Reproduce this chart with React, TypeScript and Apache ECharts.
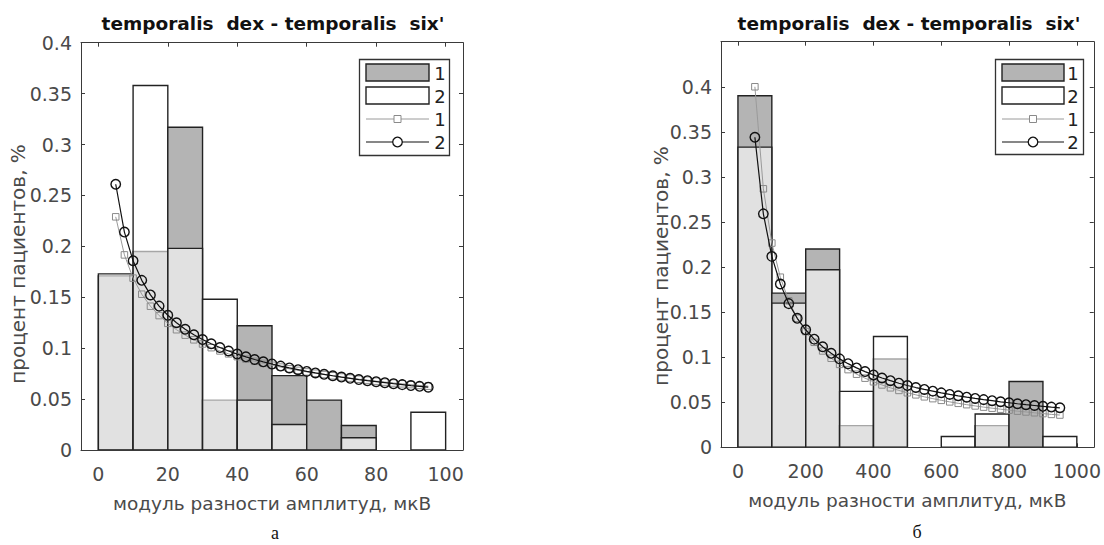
import React, { useEffect, useRef } from "react";
import * as echarts from "echarts";

// ---------- DATA ----------
const titleText = "temporalis  dex - temporalis  six'";
const xName = "модуль разности амплитуд, мкВ";
const yName = "процент пациентов, %";

// chart а
const aBinEdges = [0, 10, 20, 30, 40, 50, 60, 70, 80, 90, 100];
const aHist1 = [0.171, 0.195, 0.317, 0.049, 0.122, 0.073, 0.049, 0.024, 0, 0];
const aHist2 = [0.173, 0.358, 0.198, 0.148, 0.049, 0.025, 0, 0.012, 0, 0.037];
const aCurveX = [5, 7.5, 10, 12.5, 15, 17.5, 20, 22.5, 25, 27.5, 30, 32.5, 35, 37.5, 40, 42.5, 45, 47.5, 50, 52.5, 55, 57.5, 60, 62.5, 65, 67.5, 70, 72.5, 75, 77.5, 80, 82.5, 85, 87.5, 90, 92.5, 95];
const aCurve1 = [0.229, 0.1916, 0.1688, 0.153, 0.1412, 0.132, 0.1244, 0.1181, 0.1128, 0.1082, 0.1041, 0.1005, 0.0973, 0.0944, 0.0917, 0.0893, 0.0871, 0.0851, 0.0832, 0.0814, 0.0797, 0.0782, 0.0767, 0.0754, 0.0741, 0.0729, 0.0717, 0.0706, 0.0695, 0.0686, 0.0676, 0.0667, 0.0658, 0.065, 0.0642, 0.0634, 0.0627];
const aCurve2 = [0.261, 0.214, 0.1859, 0.1666, 0.1523, 0.1413, 0.1323, 0.1249, 0.1186, 0.1132, 0.1085, 0.1043, 0.1006, 0.0972, 0.0942, 0.0915, 0.0889, 0.0866, 0.0845, 0.0824, 0.0806, 0.0789, 0.0772, 0.0757, 0.0743, 0.0729, 0.0716, 0.0704, 0.0692, 0.0681, 0.0671, 0.0661, 0.0651, 0.0642, 0.0633, 0.0625, 0.0617];
const aXTicks = [0, 20, 40, 60, 80, 100];
const aYTicks = [0, 0.05, 0.1, 0.15, 0.2, 0.25, 0.3, 0.35, 0.4];

// chart б
const bBinEdges = [0, 100, 200, 300, 400, 500, 600, 700, 800, 900, 1000];
const bHist1 = [0.39, 0.171, 0.22, 0.024, 0.098, 0, 0, 0.024, 0.073, 0];
const bHist2 = [0.333, 0.16, 0.197, 0.062, 0.123, 0, 0.012, 0.037, 0, 0.012];
const bCurveX = [50, 75, 100, 125, 150, 175, 200, 225, 250, 275, 300, 325, 350, 375, 400, 425, 450, 475, 500, 525, 550, 575, 600, 625, 650, 675, 700, 725, 750, 775, 800, 825, 850, 875, 900, 925, 950];
const bCurve1 = [0.4, 0.2868, 0.2266, 0.1887, 0.1625, 0.1432, 0.1284, 0.1165, 0.1069, 0.0988, 0.092, 0.0862, 0.0811, 0.0767, 0.0727, 0.0692, 0.066, 0.0631, 0.0605, 0.0582, 0.056, 0.054, 0.0521, 0.0504, 0.0488, 0.0473, 0.0459, 0.0446, 0.0434, 0.0423, 0.0412, 0.0401, 0.0392, 0.0383, 0.0374, 0.0365, 0.0358];
const bCurve2 = [0.344, 0.259, 0.2118, 0.1812, 0.1594, 0.1431, 0.1304, 0.12, 0.1115, 0.1043, 0.0981, 0.0928, 0.0881, 0.084, 0.0803, 0.0769, 0.0739, 0.0711, 0.0686, 0.0663, 0.0642, 0.0623, 0.0604, 0.0587, 0.0571, 0.0556, 0.0542, 0.0529, 0.0517, 0.0505, 0.0494, 0.0483, 0.0473, 0.0464, 0.0455, 0.0446, 0.0438];
const bXTicks = [0, 200, 400, 600, 800, 1000];
const bYTicks = [0, 0.05, 0.1, 0.15, 0.2, 0.25, 0.3, 0.35, 0.4];

const legendLabels = ["1", "2", "1", "2"];
const captions = ["а", "б"];

// ---------- STYLE ----------
const FONT = "'DejaVu Sans', 'Liberation Sans', Arial, sans-serif";
const SERIF = "'Liberation Serif', 'Times New Roman', serif";
const AXIS_COLOR = "#3a3a3a";
const LABEL_COLOR = "#4a4a4a";
const DARK_FILL = "#b4b4b4";
const EDGE = "#222";

function histData(edges: number[], h1: number[], h2: number[]) {
  return h1.map((v, i) => [edges[i], edges[i + 1], v, h2[i]]);
}

function renderHist(params: any, api: any) {
  const x0 = api.value(0);
  const x1 = api.value(1);
  const h1 = api.value(2);
  const h2 = api.value(3);
  const base = api.coord([x0, 0]);
  const children: any[] = [];
  const mk = (h: number, fill: string) => {
    const p = api.coord([x1, h]);
    return {
      type: "rect",
      shape: { x: base[0], y: p[1], width: p[0] - base[0], height: base[1] - p[1] },
      style: { fill, stroke: EDGE, lineWidth: 1.4 },
    };
  };
  if (h1 > 0) children.push(mk(h1, DARK_FILL));
  if (h2 > 0) children.push(mk(h2, "rgba(255,255,255,0.6)"));
  return { type: "group", children };
}

function axesFor(
  gridIndex: number,
  xMin: number,
  xMax: number,
  xTicks: number[],
  yMax: number,
  yTicks: number[]
) {
  const line = { show: true, lineStyle: { color: AXIS_COLOR, width: 1 } };
  const tick = (vals: number[]) => ({
    show: true,
    inside: true,
    length: 4,
    customValues: vals,
    lineStyle: { color: AXIS_COLOR, width: 1 },
  });
  const xAxes = [
    {
      type: "value",
      gridIndex,
      min: xMin,
      max: xMax,
      position: "bottom",
      axisLine: { ...line, onZero: false },
      axisTick: tick(xTicks),
      axisLabel: {
        customValues: xTicks,
        margin: 14,
        color: LABEL_COLOR,
        fontSize: 19,
        fontFamily: FONT,
        formatter: (v: number) => String(v),
      },
      splitLine: { show: false },
      name: xName,
      nameLocation: "middle",
      nameGap: 44,
      nameTextStyle: { color: LABEL_COLOR, fontSize: 18.5, fontFamily: FONT },
    },
    {
      type: "value",
      gridIndex,
      min: xMin,
      max: xMax,
      position: "top",
      axisLine: { ...line, onZero: false },
      axisTick: tick(xTicks),
      axisLabel: { show: false },
      splitLine: { show: false },
    },
  ];
  const yAxes = [
    {
      type: "value",
      gridIndex,
      min: 0,
      max: yMax,
      position: "left",
      axisLine: { ...line, onZero: false },
      axisTick: tick(yTicks),
      axisLabel: {
        customValues: yTicks,
        margin: 9,
        color: LABEL_COLOR,
        fontSize: 19,
        fontFamily: FONT,
        formatter: (v: number) => String(Math.round(v * 100) / 100),
      },
      splitLine: { show: false },
    },
    {
      type: "value",
      gridIndex,
      min: 0,
      max: yMax,
      position: "right",
      axisLine: { ...line, onZero: false },
      axisTick: tick(yTicks),
      axisLabel: { show: false },
      splitLine: { show: false },
    },
  ];
  return { xAxes, yAxes };
}

function legendGraphics(bx: number, by: number, bw: number, bh: number, sx: number, sw: number, tx: number) {
  const rows = [73, 96, 119, 142];
  const mx = sx + sw / 2;
  const els: any[] = [
    { type: "rect", shape: { x: bx, y: by, width: bw, height: bh }, style: { fill: "#fff", stroke: "#333", lineWidth: 1.3 } },
    { type: "rect", shape: { x: sx, y: 64, width: sw, height: 17 }, style: { fill: DARK_FILL, stroke: EDGE, lineWidth: 1.4 } },
    { type: "rect", shape: { x: sx, y: 87, width: sw, height: 17 }, style: { fill: "#fff", stroke: EDGE, lineWidth: 1.4 } },
    { type: "line", shape: { x1: sx, y1: 119, x2: sx + sw, y2: 119 }, style: { stroke: "#9a9a9a", lineWidth: 1 } },
    { type: "rect", shape: { x: mx - 3.5, y: 115.5, width: 7, height: 7 }, style: { fill: "#fff", stroke: "#8a8a8a", lineWidth: 1 } },
    { type: "line", shape: { x1: sx, y1: 142, x2: sx + sw, y2: 142 }, style: { stroke: "#111", lineWidth: 1.2 } },
    { type: "circle", shape: { cx: mx, cy: 142, r: 4.8 }, style: { fill: "#fff", stroke: "#111", lineWidth: 1.3 } },
  ];
  legendLabels.forEach((t, i) => {
    els.push({
      type: "text",
      x: tx,
      y: rows[i],
      style: { text: t, fill: "#222", font: `18px ${FONT}`, align: "center", verticalAlign: "middle" },
    });
  });
  return { type: "group", z: 100, children: els };
}

function yNameText(x: number, y: number) {
  return {
    type: "text",
    x,
    y,
    rotation: Math.PI / 2,
    style: { text: yName, fill: LABEL_COLOR, font: `20px ${FONT}`, align: "center", verticalAlign: "middle" },
  };
}

export default function App() {
  const ref = useRef<HTMLDivElement>(null);
  useEffect(() => {
    document.body.style.margin = "0";
    if (!ref.current) return;
    const chart = echarts.init(ref.current, undefined, { renderer: "svg" });

    const a = axesFor(0, -5, 105, aXTicks, 0.4, aYTicks);
    const b = axesFor(1, -50, 1050, bXTicks, 0.45, bYTicks);

    const lineSeries = (xIdx: number, yIdx: number, xs: number[], ys: number[], kind: 1 | 2) => ({
      type: "line",
      xAxisIndex: xIdx,
      yAxisIndex: yIdx,
      data: xs.map((x, i) => [x, ys[i]]),
      symbol: kind === 1 ? "rect" : "circle",
      symbolSize: kind === 1 ? 6.5 : 9.5,
      showAllSymbol: true,
      lineStyle: { color: kind === 1 ? "#9a9a9a" : "#111", width: kind === 1 ? 1 : 1.2 },
      itemStyle: {
        color: "rgba(255,255,255,0)",
        borderColor: kind === 1 ? "#8a8a8a" : "#111",
        borderWidth: kind === 1 ? 1 : 1.4,
      },
      z: kind === 1 ? 3 : 4,
      silent: true,
    });

    const option: any = {
      animation: false,
      backgroundColor: "#fff",
      grid: [
        { left: 81, top: 42.7, width: 382, height: 407.3 },
        { left: 721, top: 41.7, width: 375.7, height: 405.6 },
      ],
      xAxis: [...a.xAxes, ...b.xAxes],
      yAxis: [...a.yAxes, ...b.yAxes],
      series: [
        {
          type: "custom",
          xAxisIndex: 0,
          yAxisIndex: 0,
          renderItem: renderHist,
          data: histData(aBinEdges, aHist1, aHist2),
          encode: { x: [0, 1], y: [2, 3] },
          clip: true,
          z: 2,
        },
        lineSeries(0, 0, aCurveX, aCurve1, 1),
        lineSeries(0, 0, aCurveX, aCurve2, 2),
        {
          type: "custom",
          xAxisIndex: 2,
          yAxisIndex: 2,
          renderItem: renderHist,
          data: histData(bBinEdges, bHist1, bHist2),
          encode: { x: [0, 1], y: [2, 3] },
          clip: true,
          z: 2,
        },
        lineSeries(2, 2, bCurveX, bCurve1, 1),
        lineSeries(2, 2, bCurveX, bCurve2, 2),
      ],
      graphic: [
        {
          type: "text",
          x: 273,
          y: 23,
          style: { text: titleText, fill: "#111", font: `bold 18.5px ${FONT}`, align: "center", verticalAlign: "middle" },
        },
        {
          type: "text",
          x: 909,
          y: 23,
          style: { text: titleText, fill: "#111", font: `bold 18.5px ${FONT}`, align: "center", verticalAlign: "middle" },
        },
        yNameText(18, 264),
        yNameText(661, 266),
        legendGraphics(359.5, 59.5, 90, 96, 366, 63, 440),
        legendGraphics(995.5, 59.5, 88, 95, 1002, 62, 1073),
        {
          type: "text",
          x: 275,
          y: 533,
          style: { text: captions[0], fill: "#111", font: `18px ${SERIF}`, align: "center", verticalAlign: "middle" },
        },
        {
          type: "text",
          x: 917,
          y: 532,
          style: { text: captions[1], fill: "#111", font: `18px ${SERIF}`, align: "center", verticalAlign: "middle" },
        },
      ],
    };
    chart.setOption(option);
    return () => chart.dispose();
  }, []);
  return <div ref={ref} style={{ width: 1104, height: 545 }} />;
}
